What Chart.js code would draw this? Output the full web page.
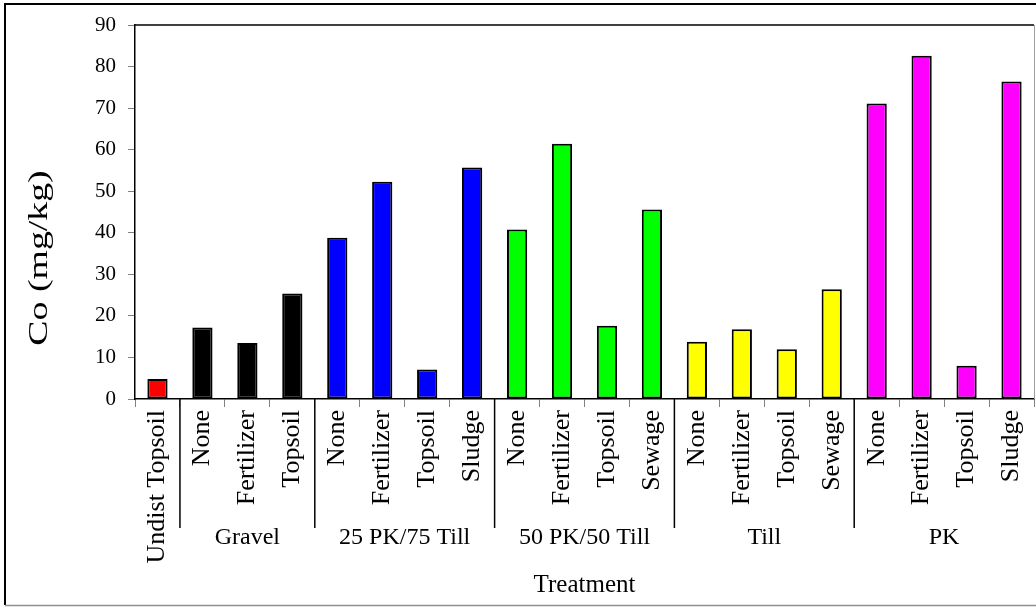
<!DOCTYPE html>
<html>
<head>
<meta charset="utf-8">
<script src="https://cdn.jsdelivr.net/npm/chart.js@4.4.1/dist/chart.umd.min.js"></script>
<style>
  html, body { margin: 0; padding: 0; background: #fff; }
  #wrap { width: 1036px; height: 607px; position: relative; }
</style>
</head>
<body>
<div id="wrap"><canvas id="grafico" width="1036" height="607"></canvas></div>
<script>
// Co concentration per treatment
const categorias = ['Undist Topsoil',
  'None', 'Fertilizer', 'Topsoil',
  'None', 'Fertilizer', 'Topsoil', 'Sludge',
  'None', 'Fertilizer', 'Topsoil', 'Sewage',
  'None', 'Fertilizer', 'Topsoil', 'Sewage',
  'None', 'Fertilizer', 'Topsoil', 'Sludge'];
const cobalto = [4.8,
  17.2, 13.5, 25.4,
  38.8, 52.3, 7.1, 55.7,
  40.8, 61.4, 17.6, 45.6,
  13.8, 16.8, 12.0, 26.4,
  71.1, 82.6, 8.0, 76.4];
const grupos = ['', 'Gravel', '25 PK/75 Till', '50 PK/50 Till', 'Till', 'PK'];
const tamanhoGrupo = [1, 3, 4, 4, 4, 4];
const corGrupo = ['#ff0000', '#000000', '#0000ff', '#00ff00', '#ffff00', '#ff00ff'];
const yMin = 0, yMax = 90, yPasso = 10;

const fonte = "'Liberation Serif', 'Times New Roman', serif";

// one colour per bar, repeated over its group
const coresBarras = [];
tamanhoGrupo.forEach((n, g) => { for (let i = 0; i < n; i++) coresBarras.push(corGrupo[g]); });

const decoracao = {
  id: 'decoracao',
  beforeDraw(chart) {
    const ctx = chart.ctx;
    ctx.save();
    ctx.fillStyle = '#fff';
    ctx.fillRect(0, 0, chart.width, chart.height);
    ctx.restore();
  },
  afterDraw(chart) {
    const { ctx, chartArea: a, scales: { x } } = chart;
    const meia = (x.getPixelForValue(1) - x.getPixelForValue(0)) / 2;
    ctx.save();

    // outer frame
    ctx.strokeStyle = '#000';
    ctx.lineWidth = 2;
    ctx.beginPath();
    ctx.moveTo(5, 605);
    ctx.lineTo(5, 4);
    ctx.lineTo(chart.width, 4);
    ctx.stroke();
    ctx.strokeStyle = '#909090';
    ctx.lineWidth = 1.5;
    ctx.beginPath();
    ctx.moveTo(5, 605.5);
    ctx.lineTo(chart.width, 605.5);
    ctx.stroke();

    // plot box top and right
    ctx.strokeStyle = '#000';
    ctx.lineWidth = 1.5;
    ctx.beginPath();
    ctx.moveTo(a.left, a.top);
    ctx.lineTo(a.right, a.top);
    ctx.stroke();
    ctx.strokeStyle = '#a0a0a0';
    ctx.lineWidth = 1;
    ctx.beginPath();
    ctx.moveTo(a.right + 0.5, a.top);
    ctx.lineTo(a.right + 0.5, a.bottom);
    ctx.stroke();

    // group separators and group names
    ctx.strokeStyle = '#000';
    ctx.lineWidth = 1.5;
    ctx.fillStyle = '#000';
    ctx.font = '24px ' + fonte;
    ctx.textAlign = 'center';
    ctx.textBaseline = 'middle';
    let inicio = 0;
    tamanhoGrupo.forEach((n, g) => {
      const esq = x.getPixelForValue(inicio) - meia;
      const dir = x.getPixelForValue(inicio + n - 1) + meia;
      if (g > 0) {
        ctx.beginPath();
        ctx.moveTo(esq, a.bottom);
        ctx.lineTo(esq, 528);
        ctx.stroke();
        ctx.fillText(grupos[g], (esq + dir) / 2, 538);
      }
      inicio += n;
    });

    // axis titles
    ctx.font = '25px ' + fonte;
    ctx.fillText('Treatment', (a.left + a.right) / 2, 585);
    ctx.translate(40, 258);
    ctx.rotate(-Math.PI / 2);
    ctx.scale(1.4, 1);
    ctx.font = '27px ' + fonte;
    ctx.fillText('Co (mg/kg)', 0, 0);
    ctx.restore();
  }
};

new Chart(document.getElementById('grafico'), {
  type: 'bar',
  data: {
    labels: categorias,
    datasets: [{
      data: cobalto,
      backgroundColor: coresBarras,
      borderColor: '#000',
      borderWidth: 2,
      borderSkipped: false,
      barPercentage: 0.45,
      categoryPercentage: 1
    }]
  },
  options: {
    responsive: false,
    animation: false,
    layout: { padding: { left: 5, top: 25, right: 2, bottom: 5 } },
    plugins: { legend: { display: false }, tooltip: { enabled: false } },
    scales: {
      x: {
        afterFit(scale) {
          scale.height = 203;
          scale.paddingLeft = 0;
          scale.paddingRight = 0;
        },
        grid: { drawOnChartArea: false, tickLength: 8, color: '#808080', lineWidth: 1 },
        border: { color: '#000', width: 1.5 },
        ticks: {
          autoSkip: false, minRotation: 90, maxRotation: 90, padding: 3,
          color: '#000', font: { family: fonte, size: 26 }
        }
      },
      y: {
        min: yMin, max: yMax,
        afterFit(scale) { scale.width = 130; },
        grid: { drawOnChartArea: false, tickLength: 7, color: '#808080', lineWidth: 1 },
        border: { color: '#000', width: 1.5 },
        ticks: {
          stepSize: yPasso, padding: 12, color: '#000',
          font: { family: fonte, size: 21 }
        }
      }
    }
  },
  plugins: [decoracao]
});
</script>
</body>
</html>
